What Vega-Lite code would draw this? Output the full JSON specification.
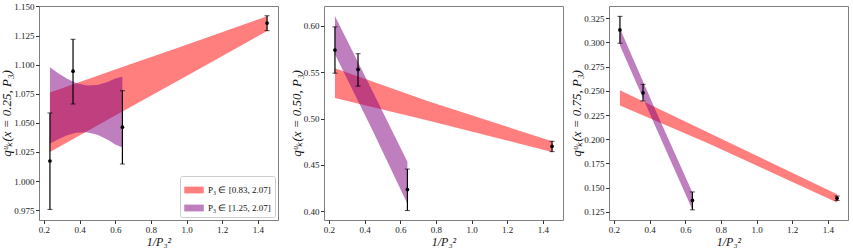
{
 "$schema": "https://vega.github.io/schema/vega-lite/v6.json",
 "padding": {"left": 0, "top": 1, "right": 0, "bottom": 0},
 "background": "white",
 "spacing": 46,
 "bounds": "flush",
 "config": {
  "font": "Liberation Serif",
  "view": {"stroke": "#7f7f7f", "strokeWidth": 1},
  "axis": {"grid": false, "domain": false, "tickColor": "#333", "tickSize": 3.5, "tickCount": 20, "labelFontSize": 9, "labelColor": "#222", "labelFont": "Liberation Serif", "labelOverlap": false, "labelFlush": false, "labelBound": false, "titleFontSize": 13, "titleFont": "Liberation Serif", "titleFontWeight": "normal", "titleFontStyle": "italic", "titleColor": "#111", "labelPadding": 1.5},
  "axisY": {"titlePadding": 0},
  "axisX": {"titlePadding": 2, "titleFontSize": 12},
  "legend": {"orient": "bottom-right", "offset": 3, "strokeColor": "#cccccc", "fillColor": "white", "padding": 4, "cornerRadius": 2, "labelFontSize": 9, "labelFont": "Liberation Serif", "labelColor": "#111", "symbolType": "M-1,-0.35L1,-0.35L1,0.35L-1,0.35Z", "symbolSize": 380, "symbolOpacity": 0.5, "symbolStrokeWidth": 0, "rowPadding": 3, "titleFontSize": 0}
 },
 "resolve": {"scale": {"color": "independent", "x": "independent", "y": "independent"}},
 "datasets": {
  "bands": [
   {"panel": "a", "series": "P₃ ∈ [0.83, 2.07]", "x": 0.2334, "lo": 1.025, "hi": 1.076},
   {"panel": "a", "series": "P₃ ∈ [0.83, 2.07]", "x": 0.64, "lo": 1.0597, "hi": 1.098},
   {"panel": "a", "series": "P₃ ∈ [0.83, 2.07]", "x": 1.0, "lo": 1.0903, "hi": 1.117},
   {"panel": "a", "series": "P₃ ∈ [0.83, 2.07]", "x": 1.4516, "lo": 1.129, "hi": 1.1415},
   {"panel": "a", "series": "P₃ ∈ [1.25, 2.07]", "x": 0.2334, "lo": 1.0323, "hi": 1.0977},
   {"panel": "a", "series": "P₃ ∈ [1.25, 2.07]", "x": 0.28, "lo": 1.036, "hi": 1.0926},
   {"panel": "a", "series": "P₃ ∈ [1.25, 2.07]", "x": 0.33, "lo": 1.0393, "hi": 1.0879},
   {"panel": "a", "series": "P₃ ∈ [1.25, 2.07]", "x": 0.38, "lo": 1.0415, "hi": 1.0843},
   {"panel": "a", "series": "P₃ ∈ [1.25, 2.07]", "x": 0.44, "lo": 1.042, "hi": 1.082},
   {"panel": "a", "series": "P₃ ∈ [1.25, 2.07]", "x": 0.50, "lo": 1.0398, "hi": 1.0826},
   {"panel": "a", "series": "P₃ ∈ [1.25, 2.07]", "x": 0.56, "lo": 1.0353, "hi": 1.0853},
   {"panel": "a", "series": "P₃ ∈ [1.25, 2.07]", "x": 0.60, "lo": 1.0314, "hi": 1.088},
   {"panel": "a", "series": "P₃ ∈ [1.25, 2.07]", "x": 0.64, "lo": 1.0288, "hi": 1.0896},
   {"panel": "b", "series": "P₃ ∈ [0.83, 2.07]", "x": 0.2334, "lo": 0.5221, "hi": 0.5544},
   {"panel": "b", "series": "P₃ ∈ [0.83, 2.07]", "x": 0.761, "lo": 0.4977, "hi": 0.5185},
   {"panel": "b", "series": "P₃ ∈ [0.83, 2.07]", "x": 1.4516, "lo": 0.464, "hi": 0.4754},
   {"panel": "b", "series": "P₃ ∈ [1.25, 2.07]", "x": 0.2334, "lo": 0.5695, "hi": 0.6108},
   {"panel": "b", "series": "P₃ ∈ [1.25, 2.07]", "x": 0.44, "lo": 0.489, "hi": 0.531},
   {"panel": "b", "series": "P₃ ∈ [1.25, 2.07]", "x": 0.64, "lo": 0.408, "hi": 0.4535},
   {"panel": "c", "series": "P₃ ∈ [0.83, 2.07]", "x": 0.2334, "lo": 0.2348, "hi": 0.2506},
   {"panel": "c", "series": "P₃ ∈ [0.83, 2.07]", "x": 0.734, "lo": 0.1953, "hi": 0.2063},
   {"panel": "c", "series": "P₃ ∈ [0.83, 2.07]", "x": 1.4516, "lo": 0.1347, "hi": 0.143},
   {"panel": "c", "series": "P₃ ∈ [1.25, 2.07]", "x": 0.2334, "lo": 0.297, "hi": 0.3145},
   {"panel": "c", "series": "P₃ ∈ [1.25, 2.07]", "x": 0.44, "lo": 0.210, "hi": 0.227},
   {"panel": "c", "series": "P₃ ∈ [1.25, 2.07]", "x": 0.64, "lo": 0.127, "hi": 0.145}
  ],
  "pts": [
   {"panel": "a", "x": 0.2334, "y": 1.0172, "lo": 0.9756, "hi": 1.0585},
   {"panel": "a", "x": 0.3629, "y": 1.0944, "lo": 1.0662, "hi": 1.1218},
   {"panel": "a", "x": 0.64, "y": 1.0463, "lo": 1.0146, "hi": 1.0776},
   {"panel": "a", "x": 1.4516, "y": 1.1357, "lo": 1.1292, "hi": 1.142},
   {"panel": "b", "x": 0.2334, "y": 0.574, "lo": 0.549, "hi": 0.599},
   {"panel": "b", "x": 0.3629, "y": 0.553, "lo": 0.535, "hi": 0.570},
   {"panel": "b", "x": 0.64, "y": 0.4233, "lo": 0.4007, "hi": 0.4455},
   {"panel": "b", "x": 1.4516, "y": 0.470, "lo": 0.4643, "hi": 0.4755},
   {"panel": "c", "x": 0.2334, "y": 0.313, "lo": 0.2992, "hi": 0.327},
   {"panel": "c", "x": 0.3629, "y": 0.248, "lo": 0.2395, "hi": 0.2567},
   {"panel": "c", "x": 0.64, "y": 0.1367, "lo": 0.127, "hi": 0.1455},
   {"panel": "c", "x": 1.4516, "y": 0.139, "lo": 0.1367, "hi": 0.1413}
  ]
 },
 "hconcat": [
  {
   "width": 239, "height": 214,
   "encoding": {
    "x": {"field": "x", "type": "quantitative", "title": "1/P₃²", "scale": {"domain": [0.172, 1.513], "nice": false, "zero": false}, "axis": {"values": [0.2, 0.4, 0.6, 0.8, 1.0, 1.2, 1.4], "format": ".1f", "tickCount": 20}}
   },
   "layer": [
    {"data": {"name": "bands"}, "transform": [{"filter": "datum.panel == 'a'"}],
     "mark": {"type": "area", "opacity": 0.5},
     "encoding": {
      "y": {"field": "lo", "type": "quantitative", "title": "qᵘₖ(x = 0.25, P₃)", "scale": {"domain": [0.9665, 1.1504], "nice": false, "zero": false}, "axis": {"values": [0.975, 1.0, 1.025, 1.05, 1.075, 1.1, 1.125, 1.15], "format": ".3f", "tickCount": 20}},
      "y2": {"field": "hi"},
      "color": {"field": "series", "type": "nominal", "scale": {"domain": ["P₃ ∈ [0.83, 2.07]", "P₃ ∈ [1.25, 2.07]"], "range": ["red", "purple"]}, "legend": {"title": null}}
     }},
    {"data": {"name": "pts"}, "transform": [{"filter": "datum.panel == 'a'"}],
     "mark": {"type": "errorbar", "ticks": {"size": 5, "color": "black"}, "rule": {"color": "black", "strokeWidth": 1.2}},
     "encoding": {"y": {"field": "lo", "type": "quantitative", "title": "qᵘₖ(x = 0.25, P₃)"}, "y2": {"field": "hi"}}},
    {"data": {"name": "pts"}, "transform": [{"filter": "datum.panel == 'a'"}],
     "mark": {"type": "point", "filled": true, "color": "black", "size": 14, "opacity": 1},
     "encoding": {"y": {"field": "y", "type": "quantitative", "title": "qᵘₖ(x = 0.25, P₃)"}}}
   ]
  },
  {
   "width": 239, "height": 214,
   "encoding": {
    "x": {"field": "x", "type": "quantitative", "title": "1/P₃²", "scale": {"domain": [0.172, 1.513], "nice": false, "zero": false}, "axis": {"values": [0.2, 0.4, 0.6, 0.8, 1.0, 1.2, 1.4], "format": ".1f", "tickCount": 20}}
   },
   "layer": [
    {"data": {"name": "bands"}, "transform": [{"filter": "datum.panel == 'b'"}],
     "mark": {"type": "area", "opacity": 0.5},
     "encoding": {
      "y": {"field": "lo", "type": "quantitative", "title": "qᵘₖ(x = 0.50, P₃)", "scale": {"domain": [0.3905, 0.6215], "nice": false, "zero": false}, "axis": {"values": [0.4, 0.45, 0.5, 0.55, 0.6], "format": ".2f", "tickCount": 20}},
      "y2": {"field": "hi"},
      "color": {"field": "series", "type": "nominal", "scale": {"domain": ["P₃ ∈ [0.83, 2.07]", "P₃ ∈ [1.25, 2.07]"], "range": ["red", "purple"]}, "legend": null}
     }},
    {"data": {"name": "pts"}, "transform": [{"filter": "datum.panel == 'b'"}],
     "mark": {"type": "errorbar", "ticks": {"size": 5, "color": "black"}, "rule": {"color": "black", "strokeWidth": 1.2}},
     "encoding": {"y": {"field": "lo", "type": "quantitative", "title": "qᵘₖ(x = 0.50, P₃)"}, "y2": {"field": "hi"}}},
    {"data": {"name": "pts"}, "transform": [{"filter": "datum.panel == 'b'"}],
     "mark": {"type": "point", "filled": true, "color": "black", "size": 14, "opacity": 1},
     "encoding": {"y": {"field": "y", "type": "quantitative", "title": "qᵘₖ(x = 0.50, P₃)"}}}
   ]
  },
  {
   "width": 239, "height": 214,
   "encoding": {
    "x": {"field": "x", "type": "quantitative", "title": "1/P₃²", "scale": {"domain": [0.172, 1.513], "nice": false, "zero": false}, "axis": {"values": [0.2, 0.4, 0.6, 0.8, 1.0, 1.2, 1.4], "format": ".1f", "tickCount": 20}}
   },
   "layer": [
    {"data": {"name": "bands"}, "transform": [{"filter": "datum.panel == 'c'"}],
     "mark": {"type": "area", "opacity": 0.5},
     "encoding": {
      "y": {"field": "lo", "type": "quantitative", "title": "qᵘₖ(x = 0.75, P₃)", "scale": {"domain": [0.1165, 0.3377], "nice": false, "zero": false}, "axis": {"values": [0.125, 0.15, 0.175, 0.2, 0.225, 0.25, 0.275, 0.3, 0.325], "format": ".3f", "tickCount": 20}},
      "y2": {"field": "hi"},
      "color": {"field": "series", "type": "nominal", "scale": {"domain": ["P₃ ∈ [0.83, 2.07]", "P₃ ∈ [1.25, 2.07]"], "range": ["red", "purple"]}, "legend": null}
     }},
    {"data": {"name": "pts"}, "transform": [{"filter": "datum.panel == 'c'"}],
     "mark": {"type": "errorbar", "ticks": {"size": 5, "color": "black"}, "rule": {"color": "black", "strokeWidth": 1.2}},
     "encoding": {"y": {"field": "lo", "type": "quantitative", "title": "qᵘₖ(x = 0.75, P₃)"}, "y2": {"field": "hi"}}},
    {"data": {"name": "pts"}, "transform": [{"filter": "datum.panel == 'c'"}],
     "mark": {"type": "point", "filled": true, "color": "black", "size": 14, "opacity": 1},
     "encoding": {"y": {"field": "y", "type": "quantitative", "title": "qᵘₖ(x = 0.75, P₃)"}}}
   ]
  }
 ]
}
